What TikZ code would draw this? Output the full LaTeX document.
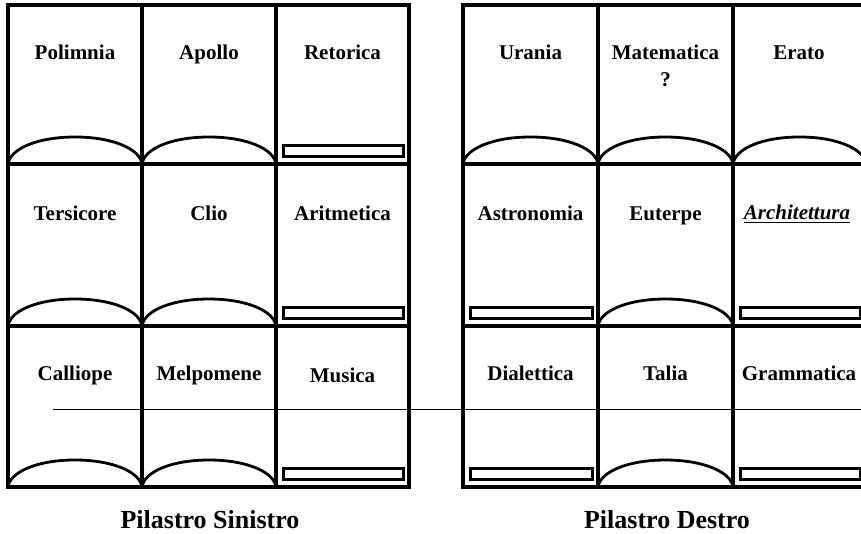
\documentclass[tikz,border=0pt]{standalone}
\usepackage{fontspec}
\setmainfont{Liberation Serif}
% arched top of a book-shaped cell: #1 left x, #2 right x, #3 bottom y
\newcommand\archcell[3]{%
  \draw[archline] (#1,#3) .. controls (#1+2,#3-15) and ({(#1+#2)/2-38},#3-27) .. ({(#1+#2)/2},#3-27)
    .. controls ({(#1+#2)/2+38},#3-27) and (#2-2,#3-15) .. (#2,#3);}
% flat plinth bar of a cell: #1 left x, #2 right x, #3 bottom y
\newcommand\barcell[3]{%
  \draw[barline] (#1+7.5,#3-18.5) rectangle (#2-5.5,#3-7.5);}
\begin{document}
\begin{tikzpicture}[x=1pt,y=-1pt,
  grid/.style={line width=3.4pt},
  archline/.style={line width=2.8pt},
  barline/.style={line width=3pt},
  cellname/.style={font=\fontsize{21}{27}\selectfont\bfseries, anchor=base, inner sep=0pt, align=center},
  pillarname/.style={font=\fontsize{26}{30}\selectfont\bfseries, anchor=base, inner sep=0pt}]
\useasboundingbox (0,0) rectangle (861,533);
\fill[white] (0,0) rectangle (861,533);

% ---- left pilaster ----
\foreach \yb in {164,326,487}{
  \archcell{8}{142}{\yb}
  \archcell{142}{276}{\yb}
  \barcell{276}{409}{\yb}
}
\draw[grid] (8,5) rectangle (409,487);
\foreach \x in {142,276} \draw[grid] (\x,5) -- (\x,487);
\foreach \y in {164,326} \draw[grid] (8,\y) -- (409,\y);

% ---- right pilaster ----
\archcell{463}{598}{164}
\archcell{598}{733}{164}
\archcell{733}{866}{164}
\foreach \yb in {326,487}{
  \barcell{463}{598}{\yb}
  \archcell{598}{733}{\yb}
  \barcell{733}{866}{\yb}
}
\draw[grid] (463,5) rectangle (866,487);
\foreach \x in {598,733} \draw[grid] (\x,5) -- (\x,487);
\foreach \y in {164,326} \draw[grid] (463,\y) -- (866,\y);

% ---- cell names ----
\node[cellname] (polimnia) at (75,59) {Polimnia};
\node[cellname] (apollo) at (209,59) {Apollo};
\node[cellname] (retorica) at (342.5,59) {Retorica};
\node[cellname] (tersicore) at (75,220) {Tersicore};
\node[cellname] (clio) at (209,220) {Clio};
\node[cellname] (aritmetica) at (342.5,220) {Aritmetica};
\node[cellname] (calliope) at (75,380) {Calliope};
\node[cellname] (melpomene) at (209,380) {Melpomene};
\node[cellname] (musica) at (342.5,382) {Musica};

\node[cellname] (urania) at (530.5,59) {Urania};
\node[cellname] (matematica) at (665.5,59) {Matematica};
\node[cellname] (dubbio) at (665.5,86) {?};
\node[cellname] (erato) at (799,59) {Erato};
\node[cellname] (astronomia) at (530.5,220) {Astronomia};
\node[cellname] (euterpe) at (665.5,220) {Euterpe};
\node[cellname, font=\fontsize{21}{27}\selectfont\bfseries\itshape] (architettura) at (797,219) {Architettura};
\draw[line width=1.5pt] ([yshift=-3.5pt]architettura.base west) -- ([yshift=-3.5pt]architettura.base east);
\node[cellname] (dialettica) at (530.5,380) {Dialettica};
\node[cellname] (talia) at (665.5,380) {Talia};
\node[cellname] (grammatica) at (799,380) {Grammatica};

% ---- horizontal reference line ----
\coordinate (refA) at (53,409);
\coordinate (refB) at (861,409);
\draw[line width=1pt] (refA) -- (refB);

% ---- pilaster captions ----
\node[pillarname] (sinistro) at (210,528) {Pilastro Sinistro};
\node[pillarname] (destro) at (667,528) {Pilastro Destro};
\end{tikzpicture}
\end{document}
